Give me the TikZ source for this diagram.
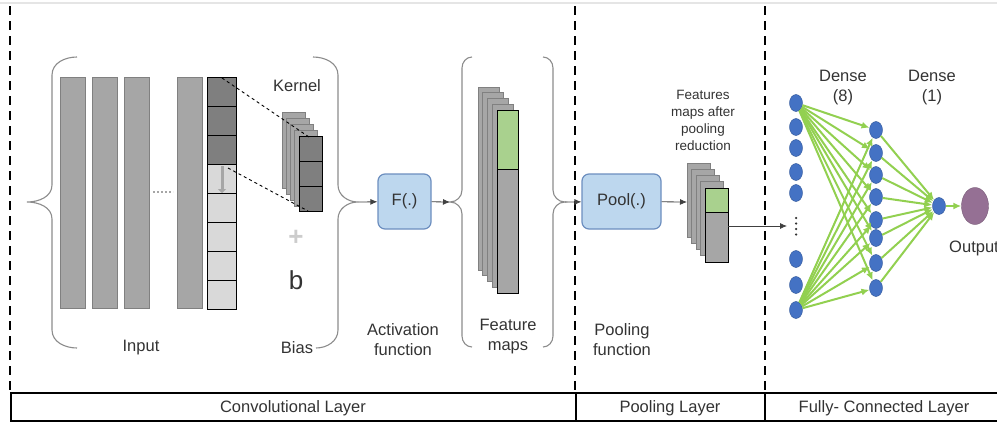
\documentclass[tikz,border=0pt]{standalone}
\usepackage{fontspec}
\setmainfont{Liberation Sans}
\usetikzlibrary{arrows.meta,positioning,shapes.geometric}
\definecolor{cnnBlue}{HTML}{BDD7EE}
\definecolor{cnnBlueEdge}{HTML}{6C8EBF}
\definecolor{cnnNode}{HTML}{4472C4}
\definecolor{cnnNodeEdge}{HTML}{2F5597}
\definecolor{cnnGreen}{HTML}{92D050}
\definecolor{cnnMapGreen}{HTML}{A9D18E}
\definecolor{cnnPurple}{HTML}{957094}
\definecolor{cnnGray}{HTML}{A6A6A6}
\definecolor{cnnDark}{HTML}{7F7F7F}
\definecolor{cnnLight}{HTML}{D9D9D9}
\definecolor{cnnBrace}{HTML}{8C8C8C}
\definecolor{cnnText}{HTML}{333333}

\begin{document}
\begin{tikzpicture}[
x=1pt, y=-1pt,
every node/.style={font=\fontsize{16.5}{20}\selectfont, text=cnnText},
func/.style={draw=cnnBlueEdge, fill=cnnBlue, rounded corners=7pt, line width=1.2pt, minimum height=55pt, inner sep=0pt},
lbl/.style={align=center},
small/.style={align=center, font=\fontsize{13.5}{17}\selectfont},
neuron/.style={ellipse, draw=cnnNodeEdge, fill=cnnNode, minimum width=13pt, minimum height=17pt, inner sep=0pt},
brace/.style={draw=cnnBrace, line width=1.1pt},
layer/.style={draw=gray, fill=cnnGray, line width=0.6pt},
cell/.style={draw=black, line width=1pt},
arr/.style={-{Latex[length=7pt,width=6pt]}, line width=0.8pt, draw=black!75},
garr/.style={-{Latex[length=8pt,width=7pt]}, line width=2pt, draw=cnnGreen},
sep/.style={dash pattern=on 9pt off 6pt, line width=2pt},
]
\useasboundingbox (0,0) rectangle (997,423);
\draw[gray!20, line width=1.5pt] (0,3) -- (997,3);

% Layer separators and bottom table
\draw[sep] (10,6) -- (10,393);
\draw[sep] (575,6) -- (575,393);
\draw[sep] (765,6) -- (765,393);
\draw[line width=2.5pt] (10,393) -- (997,393);
\draw[line width=2pt] (11,393) -- (11,421) -- (997,421);
\draw[line width=2pt] (576,393) -- (576,421);
\draw[line width=2pt] (765,393) -- (765,421);
\node (convL) at (293,408) {Convolutional Layer};
\node (poolL) at (670,408) {Pooling Layer};
\node (fcL) at (884,408) {Fully- Connected Layer};

% Input and kernel
\foreach \x in {60,92,124,177}
  \draw[layer] (\x,77) rectangle ++(25,231);
\draw[gray!70, line width=1.5pt, dash pattern=on 2pt off 2pt] (153,192) -- (173,192);
\foreach \k/\c in {0/cnnDark,1/cnnDark,2/cnnDark,3/cnnLight,4/cnnLight,5/cnnLight,6/cnnLight,7/cnnLight}
  \draw[cell, fill=\c] (207,{77+29*\k}) rectangle ++(29,29);
\draw[gray!70, line width=3pt, -{Triangle[length=4pt,width=8pt]}] (222,166) -- (222,193);
\foreach \i in {0,...,3}
  \draw[layer] ({282+4.25*\i},{112+6*\i}) rectangle ++(23,76);
\foreach \k in {0,1,2}
  \draw[cell, fill=cnnDark] (299,{136+25.3*\k}) rectangle ++(23,25.3);
\draw[dashed, line width=0.9pt] (222,78) -- (309,137);
\draw[dashed, line width=0.9pt] (228,168) -- (308,211);
\node (kernel) at (297,86) {Kernel};
\node[text=gray!40, font=\fontsize{26}{26}\selectfont\bfseries] (plus) at (296,238) {+};
\node[font=\fontsize{26}{26}\selectfont] (bias) at (296,280) {b};
\node (inputLbl) at (141,348) {Input};
\node (biasLbl) at (297,348) {Bias};

% Braces
\draw[brace] (77,57) to[out=180,in=90] (52,75) -- (52,185) to[out=-90,in=0] (27,202)
  to[out=0,in=90] (52,219) -- (52,330) to[out=-90,in=180] (77,348);
\draw[brace] (313,57) to[out=0,in=90] (338,75) -- (338,185) to[out=-90,in=180] (358,202)
  to[out=180,in=90] (338,219) -- (338,330) to[out=-90,in=0] (316,348);
\coordinate (inTip) at (358,202);
\draw[brace] (472,57) to[out=180,in=90] (462,68) -- (462,190) to[out=-90,in=0] (450,202)
  to[out=0,in=90] (462,214) -- (462,336) to[out=-90,in=180] (472,347);
\coordinate (mapIn) at (450,202);
\draw[brace] (543,57) to[out=0,in=90] (553,68) -- (553,190) to[out=-90,in=180] (565,202)
  to[out=180,in=90] (553,214) -- (553,336) to[out=-90,in=0] (543,347);
\coordinate (mapOut) at (565,202);

% Activation
\node[func, minimum width=53pt] (F) at (404.5,201.5) {F(.)};
\draw[arr] (inTip) -- (F);
\draw[arr] (F) -- (mapIn);
\node[lbl] (actLbl) at (403,340) {Activation\\function};

% Feature maps
\foreach \i in {0,...,3}
  \draw[layer] ({478+4.75*\i},{87+5.75*\i}) rectangle ++(21,183);
\draw[cell, fill=cnnMapGreen] (497,110) rectangle (518,169);
\draw[cell, fill=cnnGray] (497,169) rectangle (518,293);
\node[lbl] (mapLbl) at (508,337) {Feature\\maps};

% Pooling
\node[func, minimum width=79pt] (pool) at (621.5,201.5) {Pool(.)};
\draw[arr] (mapOut) -- (pool);
\node[lbl] (poolFn) at (622,340) {Pooling\\function};
\coordinate (stackIn) at (687,202);
\draw[arr] (pool) -- (stackIn);
\foreach \i in {0,...,3}
  \draw[layer] ({687+4.5*\i},{163+6.25*\i}) rectangle ++(23,74);
\draw[cell, fill=cnnMapGreen] (705,188) rectangle (728,212);
\draw[cell, fill=cnnGray] (705,212) rectangle (728,262);
\node[small] (poolMaps) at (703,120) {Features\\maps after\\pooling\\reduction};
\coordinate (stackOut) at (728,226);
\coordinate (fcIn) at (787,226);
\draw[arr] (stackOut) -- (fcIn);

% Fully connected
\foreach \y [count=\i] in {103,127,148,172,193,259,285,310}
  \node[neuron] (in\i) at (796,\y) {};
\draw[black!80, line width=2.5pt, line cap=round, dash pattern=on 0pt off 5.5pt] (796,218) -- (796,238);
\foreach \y [count=\i] in {130,153,175,197,220,238,263,288}
  \node[neuron] (h\i) at (876,\y) {};
\node[neuron] (d1) at (939,206) {};
\node[ellipse, draw=cnnPurple!80!black, fill=cnnPurple, minimum width=27pt, minimum height=37pt] (out) at (975,206) {};
\foreach \i in {1,...,8} {
  \draw[garr] (in1) -- (h\i);
  \draw[garr] (in8) -- (h\i);
  \draw[garr] (h\i) -- (d1);
}
\draw[garr] (d1) -- (out);
\node[lbl] (dense8) at (843,88) {Dense\\(8)};
\node[lbl] (dense1) at (932,88) {Dense\\(1)};
\node (outLbl) at (974,248) {Output};
\end{tikzpicture}
\end{document}
